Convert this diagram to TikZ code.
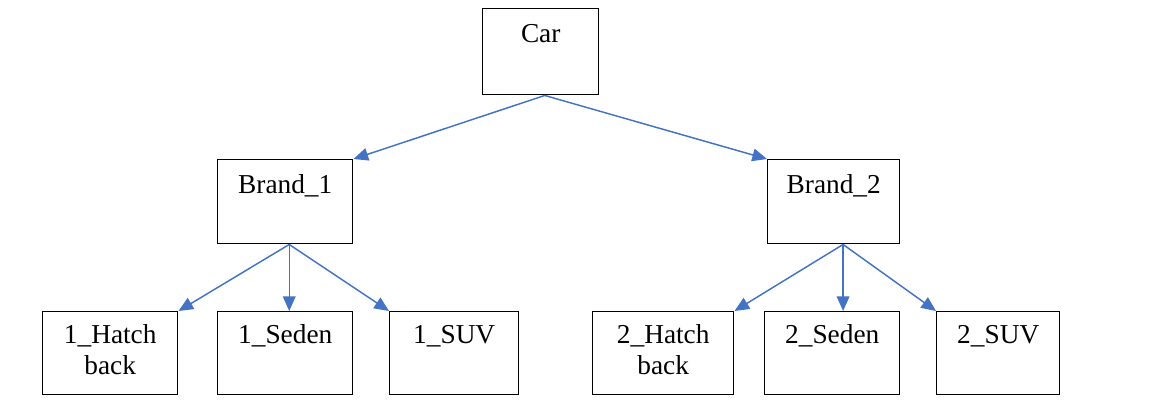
\documentclass[tikz,border=0pt]{standalone}
\usepackage{fontspec}
\setmainfont{Liberation Serif}
\usepackage{xcolor}
\usetikzlibrary{arrows.meta}
\definecolor{linkblue}{RGB}{68,114,196}

\begin{document}
\begin{tikzpicture}[x=0.75pt,y=-0.75pt,>={Triangle[length=11pt,width=9.5pt]},
  box/.style={draw,line width=1.1pt,anchor=north west,minimum width=0.75*#1pt,minimum height=63pt,inner sep=0pt},
  txt/.style={anchor=north,align=center,inner sep=0pt,font=\fontsize{20.5}{23.3}\selectfont,execute at begin node=\strut},
  link/.style={->,linkblue,line width=1.1pt}]
  \useasboundingbox (0,0) rectangle (1162,412);
  % top level
  \node[box=116,minimum height=64.5pt] (car) at (482,8) {};
  \node[txt] (car-t) at ([yshift=-9.7pt]car.north) {Car};
  % brands
  \node[box=135] (b1) at (217,159) {};
  \node[box=132] (b2) at (767,159) {};
  \node[txt] (b1-t) at ([yshift=-9.7pt]b1.north) {Brand\_1};
  \node[txt] (b2-t) at ([yshift=-9.7pt]b2.north) {Brand\_2};
  % models of brand 1
  \node[box=135,minimum height=62pt] (h1) at (42,311) {};
  \node[box=135,minimum height=62pt] (s1) at (217,311) {};
  \node[box=129,minimum height=62pt] (v1) at (389,311) {};
  \node[txt] (h1-t) at ([yshift=-10pt]h1.north) {1\_Hatch\\back};
  \node[txt] (s1-t) at ([yshift=-7.7pt]s1.north) {1\_Seden};
  \node[txt] (v1-t) at ([yshift=-7.7pt]v1.north) {1\_SUV};
  % models of brand 2
  \node[box=141,minimum height=62pt] (h2) at (592,311) {};
  \node[box=135,minimum height=62pt] (s2) at (764,311) {};
  \node[box=123,minimum height=62pt] (v2) at (936,311) {};
  \node[txt] (h2-t) at ([yshift=-10pt]h2.north) {2\_Hatch\\back};
  \node[txt] (s2-t) at ([yshift=-7.7pt]s2.north) {2\_Seden};
  \node[txt] (v2-t) at ([yshift=-7.7pt]v2.north) {2\_SUV};
  % connectors
  \coordinate (car-o) at ([xshift=3pt]car.south);
  \coordinate (b1-o) at ([xshift=3pt]b1.south);
  \coordinate (b2-o) at ([xshift=7pt]b2.south);
  \draw[link] (car-o) -- (b1.north east);
  \draw[link] (car-o) -- (b2.north west);
  \draw[link] (b1-o) -- (h1.north east);
  \draw[link] (b1-o) -- (b1-o |- s1.north);
  \draw[link] (b1-o) -- (v1.north west);
  \draw[link] (b2-o) -- (h2.north east);
  \draw[link] (b2-o) -- (b2-o |- s2.north);
  \draw[link] (b2-o) -- (v2.north west);
\end{tikzpicture}
\end{document}
